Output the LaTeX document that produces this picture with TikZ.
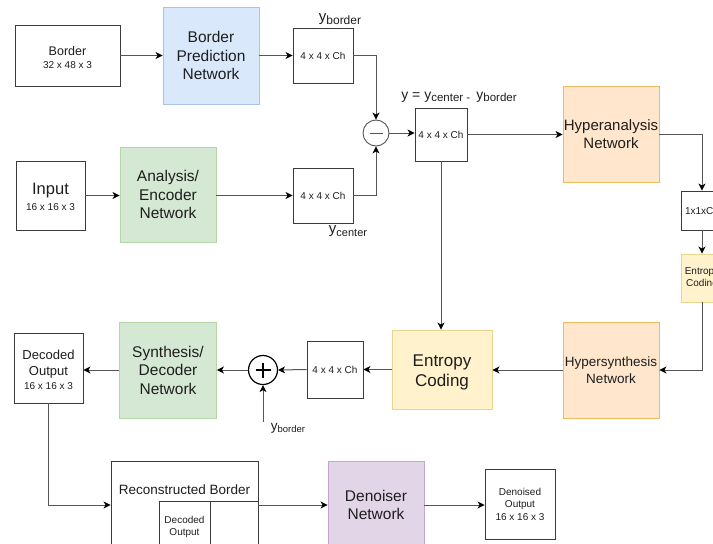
\documentclass[tikz,border=0pt]{standalone}
\usepackage{fontspec}
\setmainfont{Liberation Sans}
\usetikzlibrary{arrows.meta}

\newcommand{\fsz}[2]{\fontsize{#1}{#2}\selectfont}
\newcommand{\lowsub}[2]{\raisebox{-0.35ex}{\fsz{#1}{#1}#2}}

\definecolor{edge}{HTML}{3A3A3A}
\definecolor{wirec}{HTML}{555555}
\definecolor{txt}{HTML}{1E1E1E}
\definecolor{bluefill}{HTML}{DAE8FC}
\definecolor{bluedraw}{HTML}{A9C4EB}
\definecolor{greenfill}{HTML}{D5E8D4}
\definecolor{greendraw}{HTML}{B5D6A7}
\definecolor{orangefill}{HTML}{FFE6CC}
\definecolor{orangedraw}{HTML}{EDBB5F}
\definecolor{yellowfill}{HTML}{FFF2CC}
\definecolor{yellowdraw}{HTML}{E9D48E}
\definecolor{purplefill}{HTML}{E1D5E7}
\definecolor{purpledraw}{HTML}{C0A8CF}

\tikzset{
  every node/.style={text=txt},
  plain/.style={rectangle, draw=edge, line width=0.9pt, fill=white, align=center, inner sep=0pt},
  netblue/.style={plain, draw=bluedraw, fill=bluefill},
  netgreen/.style={plain, draw=greendraw, fill=greenfill},
  netorange/.style={plain, draw=orangedraw, fill=orangefill},
  netyellow/.style={plain, draw=yellowdraw, fill=yellowfill},
  netpurple/.style={plain, draw=purpledraw, fill=purplefill},
  netfont/.style={font=\fsz{15.5}{18.5}},
  smallfont/.style={font=\fsz{10}{12.5}},
  wire/.style={draw=wirec, line width=1pt, -{Stealth[length=7pt,width=7pt,inset=2pt,color=black]}},
  label/.style={inner sep=0pt, align=center}
}

\begin{document}
\begin{tikzpicture}[x=1pt,y=-1pt]
\useasboundingbox (0,0) rectangle (713,544);
\clip (0,0) rectangle (713,544);

% ---------- encoder side ----------
\node[plain, minimum width=105pt, minimum height=61pt] (border) at (67.5,55.5) {};
\node[label, font=\fsz{12.5}{13}] (bordert) at (67.5,57.5)
  {Border\\{\fsz{10}{12}32 x 48 x 3}};
\node[netblue, netfont, minimum width=96pt, minimum height=97pt] (bpn) at (211,55.5)
  {Border\\Prediction\\Network};
\node[plain, smallfont, minimum width=60pt, minimum height=55pt] (yb) at (323,55.5) {4 x 4 x Ch};
\node[label] (ybl) at (340,19) {\fsz{15}{15}y\lowsub{12}{border}};

\node[plain, minimum width=69pt, minimum height=69pt] (input) at (50.5,195.5) {};
\node[label, font=\fsz{16.5}{16}] (inputt) at (50.5,197)
  {Input\\{\fsz{10}{12}16 x 16 x 3}};
\node[netgreen, netfont, minimum width=96pt, minimum height=95pt] (enc) at (168,194.5)
  {Analysis/\\Encoder\\Network};
\node[plain, smallfont, minimum width=60pt, minimum height=55pt] (yc) at (323,195.5) {4 x 4 x Ch};
\node[label] (ycl) at (348,231) {\fsz{15}{15}y\lowsub{11}{center}};

% difference node
\node[circle, draw=wirec, line width=0.9pt, fill=white, minimum size=26pt, inner sep=0pt] (minus) at (376,133) {};
\draw[wirec, line width=1pt] ([xshift=-6.5pt]minus.center) -- ([xshift=6.5pt]minus.center);

\node[plain, smallfont, minimum width=52pt, minimum height=53pt] (yd) at (441,134.5) {4 x 4 x Ch};
\node[label] (ydl) at (459,97) {\fsz{14}{14}y = y\lowsub{11.5}{center - }\hspace{3pt}y\lowsub{11.5}{border}};

% ---------- hyperprior branch ----------
\node[netorange, font=\fsz{15}{18}, minimum width=96pt, minimum height=96pt] (hya) at (611,134)
  {Hyperanalysis\\Network};
\node[plain, smallfont, minimum width=42pt, minimum height=39pt] (hz) at (702,210.5) {1x1xCh};
\node[netyellow, font=\fsz{10}{11.5}, minimum width=42pt, minimum height=48pt] (ec2) at (702,278)
  {Entropy\\Coding};
\node[netorange, font=\fsz{13.5}{16.5}, minimum width=96pt, minimum height=96pt] (hys) at (611,370)
  {Hypersynthesis\\Network};

% ---------- decoder side ----------
\node[netyellow, minimum width=100pt, minimum height=79pt] (ec) at (442,369.5) {};
\node[label, font=\fsz{17}{20}] (ect) at (442,372) {Entropy\\Coding};
\node[plain, smallfont, minimum width=56pt, minimum height=57pt] (yh) at (335,369.5) {4 x 4 x Ch};

\node[circle, draw=black, line width=1.2pt, fill=white, minimum size=29pt, inner sep=0pt] (plus) at (263,370) {};
\draw[black, line width=1.2pt] ([xshift=-7.5pt]plus.center) -- ([xshift=7.5pt]plus.center)
  ([yshift=-7.5pt]plus.center) -- ([yshift=7.5pt]plus.center);
\node[label] (ybbl) at (288,428) {\fsz{13.5}{13.5}y\lowsub{9.5}{border}};
\coordinate (ybin) at (263,422);

\node[netgreen, netfont, minimum width=97pt, minimum height=96pt] (syn) at (168,370)
  {Synthesis/\\Decoder\\Network};
\node[plain, minimum width=69pt, minimum height=70pt] (dec) at (48.5,368) {};
\node[label, font=\fsz{13}{16}] (dect) at (48.5,370)
  {Decoded\\Output\\[-2pt]{\fsz{10}{12}16 x 16 x 3}};

% ---------- post-processing row ----------
\coordinate (row) at (0,505);
\node[plain, minimum width=147pt, minimum height=88pt] (rb) at (184.5,505) {};
\node[label, font=\fsz{13.5}{14}] (rbt) at (184.5,490) {Reconstructed Border};
\node[plain, font=\fsz{10}{12}, minimum width=51pt, minimum height=50pt] (rbi) at (184.5,526.5)
  {Decoded\\Output};
\draw[edge, line width=0.9pt] (rbi.north east) -- (rbi.north east -| rb.east);

\node[netpurple, netfont, minimum width=96pt, minimum height=88pt] (den) at (376,505)
  {Denoiser\\Network};
\node[plain, font=\fsz{10}{12.5}, minimum width=70pt, minimum height=70pt] (dn) at (520,504)
  {Denoised\\Output\\16 x 16 x 3};

% ---------- connectors ----------
\draw[wire] (border.east) -- (bpn.west |- border.east);
\draw[wire] (bpn.east) -- (yb.west |- bpn.east);
\draw[wire] (yb.east) -| (minus.north);
\draw[wire] (input.east) -- (enc.west |- input.east);
\draw[wire] (enc.east |- yc.west) -- (yc.west);
\draw[wire] (yc.east) -| (minus.south);
\draw[wire] (minus.east) -- (yd.west |- minus.east);
\draw[wire] (yd.east) -- (hya.west |- yd.east);
\draw[wire] (hya.east) -| (hz.north);
\draw[wire] (hz.south) -- (ec2.north);
\draw[wire] (ec2.south) |- (hys.east);
\draw[wire] (hys.west) -- (ec.east |- hys.west);
\draw[wire] (yd.south) -- (yd.south |- ec.north);
\draw[wire] (ec.west) -- (yh.east |- ec.west);
\draw[wire] (yh.west) -- (plus.east);
\draw[wire] (ybin) -- (plus.south);
\draw[wire] (plus.west) -- (syn.east |- plus.west);
\draw[wire] (syn.west) -- (syn.west -| dec.east);
\draw[wire] (dec.south) |- (rb.west |- row);
\draw[wire] (rb.east |- row) -- (den.west |- row);
\draw[wire] (den.east |- row) -- (dn.west |- row);
\end{tikzpicture}
\end{document}
